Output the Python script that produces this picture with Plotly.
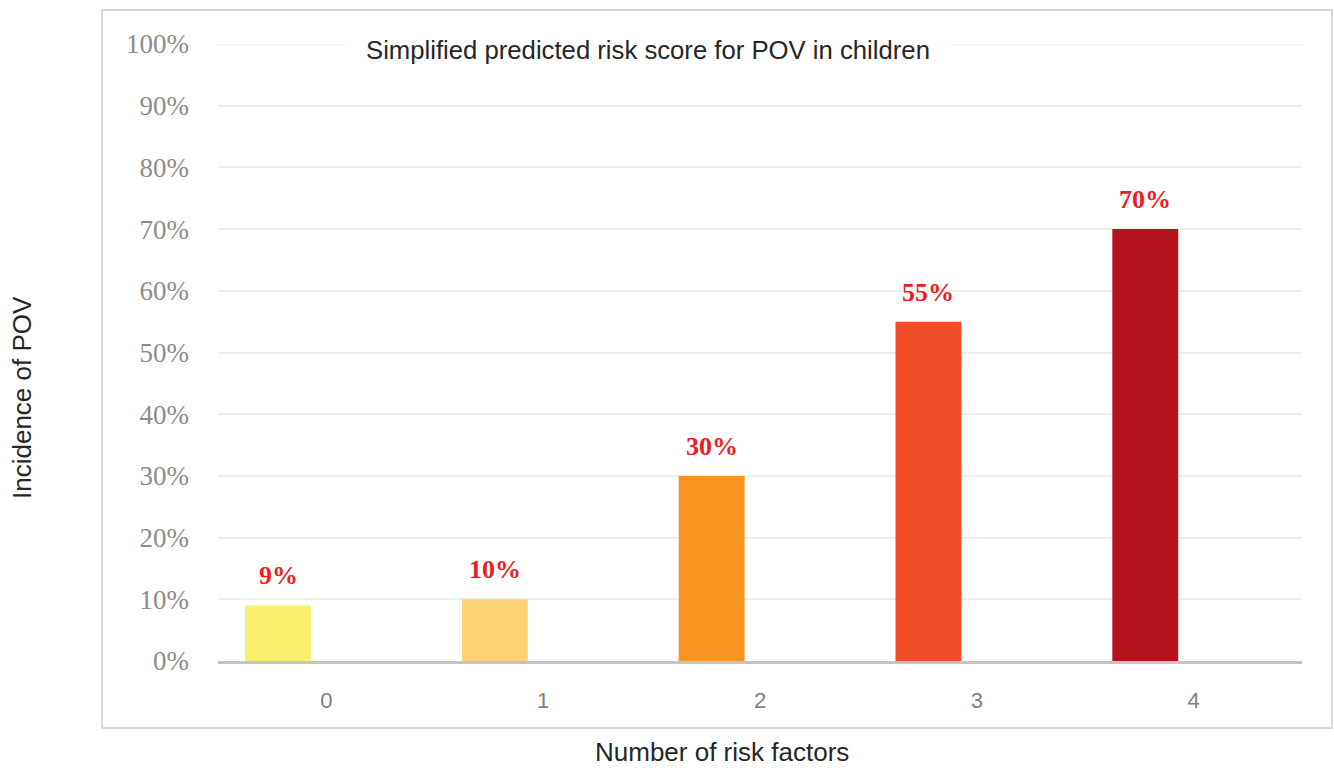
import plotly.graph_objects as go

categories = [0, 1, 2, 3, 4]
incidence = [0.09, 0.10, 0.30, 0.55, 0.70]
bar_colors = ["#FBEF6E", "#FDD375", "#F79520", "#F04E28", "#B5121B"]
label_texts = ["9%", "10%", "30%", "55%", "70%"]
title_text = "Simplified predicted risk score for POV in children"
y_title = "Incidence of POV"
x_title = "Number of risk factors"

BAR_W = 0.304
BAR_OFF = -0.375

fig = go.Figure()
fig.add_trace(go.Bar(
    x=categories, y=incidence, width=BAR_W, offset=BAR_OFF,
    marker=dict(color=bar_colors, line=dict(width=0)),
    hoverinfo="skip",
))

W, H = 1334, 768
L, R, T, B = 218, 32, 44, 107
pw = W - L - R
ph = H - T - B

def px_x(p):
    return (p - L) / pw

def px_y(p):
    return (H - B - p) / ph

GRID = "#EEEEEE"

# top gridline (100%) drawn explicitly
fig.add_shape(type="line", xref="paper", yref="y", x0=0, x1=1, y0=1, y1=1,
              line=dict(color=GRID, width=2), layer="below")

for c, v, t in zip(categories, incidence, label_texts):
    fig.add_annotation(
        x=c + BAR_OFF + BAR_W / 2, y=v, xref="x", yref="y",
        text="<b>" + t + "</b>", showarrow=False, yanchor="bottom",
        yshift=13, font=dict(family="Liberation Serif", size=26, color="#ED1C24"),
    )

# title with white background breaking gridline
fig.add_annotation(
    x=px_x(648), y=px_y(50), xref="paper", yref="paper",
    text=title_text, showarrow=False, bgcolor="white", borderpad=20,
    font=dict(family="Liberation Sans", size=25.7, color="#262626"),
    xanchor="center", yanchor="middle",
)
fig.add_annotation(
    x=px_x(22), y=px_y(398), xref="paper", yref="paper",
    text=y_title, textangle=-90, showarrow=False,
    font=dict(family="Liberation Sans", size=26, color="#262626"),
    xanchor="center", yanchor="middle",
)
fig.add_annotation(
    x=px_x(722), y=px_y(752), xref="paper", yref="paper",
    text=x_title, showarrow=False,
    font=dict(family="Liberation Sans", size=26, color="#262626"),
    xanchor="center", yanchor="middle",
)

# outer border box
fig.add_shape(
    type="rect", xref="paper", yref="paper",
    x0=px_x(102), x1=px_x(1332), y0=px_y(728), y1=px_y(10),
    line=dict(color="#D9D9D9", width=2), fillcolor="rgba(0,0,0,0)", layer="below",
)

fig.update_layout(
    width=W, height=H,
    margin=dict(l=L, r=R, t=T, b=B),
    paper_bgcolor="white", plot_bgcolor="white",
    showlegend=False,
    xaxis=dict(
        range=[-0.5, 4.5], tickvals=categories, ticktext=[str(c) for c in categories],
        showgrid=False, zeroline=False, showline=True, linecolor="#C4C4C4", linewidth=3,
        ticks="", ticklabelstandoff=18,
        tickfont=dict(family="Liberation Sans", size=22, color="#7F7F7F"),
    ),
    yaxis=dict(
        range=[0, 1], dtick=0.1, tickformat=".0%",
        showgrid=True, gridcolor=GRID, gridwidth=2, zeroline=False,
        ticks="", ticklabelstandoff=28,
        tickfont=dict(family="Liberation Serif", size=27, color="#8C8C8C"),
    ),
)

fig.write_html("out.html", config={"displayModeBar": False},
               post_script="document.body.style.margin='0';document.body.style.overflow='hidden';")
